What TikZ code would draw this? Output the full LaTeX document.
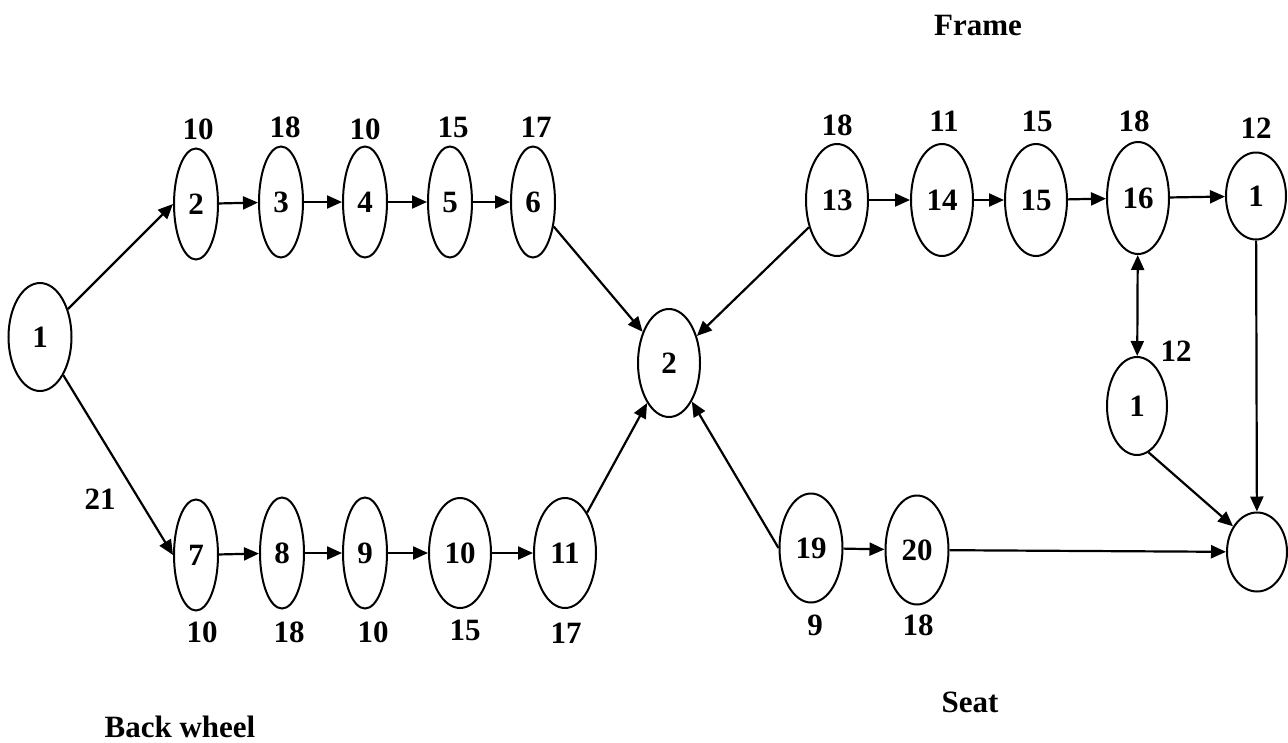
\documentclass[tikz,border=0pt]{standalone}
\usepackage{fontspec}
\setmainfont{Liberation Serif}
\usetikzlibrary{shapes.geometric,arrows.meta}
\tikzset{
  ev/.style={ellipse,draw,line width=2pt,inner sep=0pt,font=\fontsize{31}{36}\selectfont\bfseries},
  thin/.style={ev,minimum width=44pt,minimum height=111pt},
  wide/.style={ev,minimum width=62pt,minimum height=110pt},
  lbl/.style={inner sep=0pt,font=\fontsize{31}{36}\selectfont\bfseries},
  con/.style={line width=2.2pt,-{Triangle[length=15pt,width=13pt]}},
  dcon/.style={line width=2.2pt,{Triangle[length=15pt,width=13pt]}-{Triangle[length=15pt,width=13pt]}}
}
\begin{document}
\begin{tikzpicture}[x=1pt,y=-1pt]
\useasboundingbox (0,0) rectangle (1288,742);
% nodes
\node[ev,minimum width=63pt,minimum height=108pt] (L1) at (40,337) {1};
\node[thin] (A2) at (196,204) {2};
\node[thin] (A3) at (281,202) {3};
\node[thin] (A4) at (365,202) {4};
\node[thin] (A5) at (450,202) {5};
\node[thin] (A6) at (533,202) {6};
\node[thin] (B7) at (196,555) {7};
\node[thin] (B8) at (282,553) {8};
\node[thin] (B9) at (365,553) {9};
\node[wide] (B10) at (460,553) {10};
\node[wide] (B11) at (565,553) {11};
\node[ev,minimum width=62pt,minimum height=108pt] (C) at (669,363) {2};
\node[wide,minimum height=112pt] (F13) at (837,200) {13};
\node[wide,minimum height=112pt] (F14) at (942,200) {14};
\node[wide,minimum height=112pt] (F15) at (1036,200) {15};
\node[wide,minimum height=112pt] (F16) at (1138,198) {16};
\node[ev,minimum width=60pt,minimum height=87pt] (R1) at (1256,196) {1};
\node[ev,minimum width=60pt,minimum height=98pt] (M1) at (1137,406) {1};
\node[ev,minimum width=60pt,minimum height=79pt] (E) at (1257,552) {};
\node[wide,minimum width=63pt,minimum height=109pt] (S19) at (811,548) {19};
\node[wide,minimum width=63pt,minimum height=109pt] (S20) at (917,550) {20};
% labels
\node[lbl] (t1) at (198,129) {10};
\node[lbl] (t2) at (285,127) {18};
\node[lbl] (t3) at (365,129) {10};
\node[lbl] (t4) at (453,127) {15};
\node[lbl] (t5) at (536,127) {17};
\node[lbl] (u1) at (837,125) {18};
\node[lbl] (u2) at (944,121) {11};
\node[lbl] (u3) at (1037,121) {15};
\node[lbl] (u4) at (1134,121) {18};
\node[lbl] (u5) at (1256,128) {12};
\node[lbl] (u6) at (1176,351) {12};
\node[lbl] (w21) at (100,499) {21};
\node[lbl] (b1) at (202,632) {10};
\node[lbl] (b2) at (289,632) {18};
\node[lbl] (b3) at (373,632) {10};
\node[lbl] (b4) at (465,630) {15};
\node[lbl] (b5) at (566,633) {17};
\node[lbl] (s1) at (815,625) {9};
\node[lbl] (s2) at (918,625) {18};
\node[lbl] (frame) at (978,25) {Frame};
\node[lbl] (back) at (180,727) {Back wheel};
\node[lbl] (seat) at (970,702) {Seat};
% connectors
\draw[con] (L1) -- (A2.west);
\draw[con] (A2) -- (A3);
\draw[con] (A3) -- (A4);
\draw[con] (A4) -- (A5);
\draw[con] (A5) -- (A6);
\draw[con] (L1) -- (B7.west);
\draw[con] (B7) -- (B8);
\draw[con] (B8) -- (B9);
\draw[con] (B9) -- (B10);
\draw[con] (B10) -- (B11);
\draw[con] (A6) -- (C);
\draw[con] (B11) -- (C);
\draw[con] (F13) -- (C);
\draw[con] (S19.west) -- (C);
\draw[con] (F13) -- (F14);
\draw[con] (F14) -- (F15);
\draw[con] (F15) -- (F16);
\draw[con] (F16) -- (R1);
\draw[dcon] (F16) -- (M1);
\draw[con] (R1) -- (E);
\draw[con] (M1.-76) -- (E.133);
\draw[con] (S19) -- (S20);
\draw[con] (S20) -- (E);
\end{tikzpicture}
\end{document}
